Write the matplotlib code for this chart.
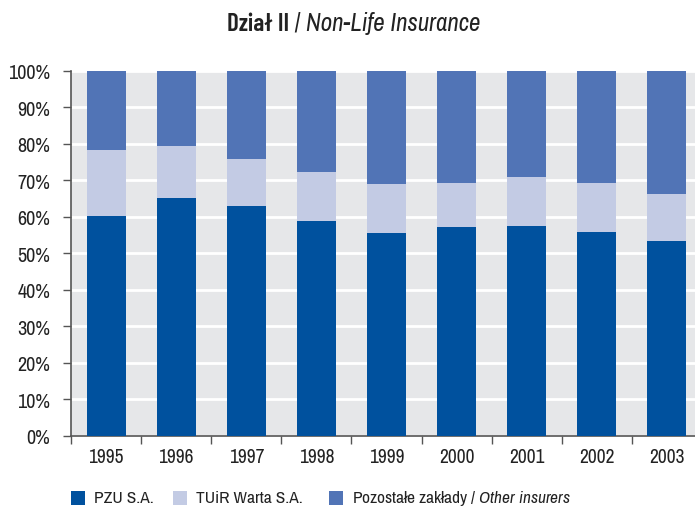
import numpy as np
import matplotlib
matplotlib.use("Agg")
import matplotlib.pyplot as plt
from matplotlib.patches import Rectangle

FONT = 'Archivo Narrow'
BOLD_FONT = 'Barlow Condensed'
plt.rcParams['font.family'] = [FONT, 'DejaVu Sans']
plt.rcParams['mathtext.fontset'] = 'custom'
plt.rcParams['mathtext.rm'] = FONT
plt.rcParams['mathtext.it'] = FONT + ':italic'

# --- data (share of gross written premium, %) ---
years = ['1995', '1996', '1997', '1998', '1999', '2000', '2001', '2002', '2003']
pzu = [60.1, 65.1, 62.9, 58.8, 55.5, 57.1, 57.4, 55.7, 53.3]
warta = [18.1, 14.2, 12.9, 13.4, 13.4, 12.1, 13.4, 13.5, 12.9]
others = [21.8, 20.7, 24.2, 27.8, 31.1, 30.8, 29.2, 30.8, 33.8]
series_names = ['PZU S.A.', 'TUiR Warta S.A.',
                r'Pozostałe zakłady / $\mathit{Other\ insurers}$']
yticks = [0, 10, 20, 30, 40, 50, 60, 70, 80, 90, 100]

colors = ['#00519e', '#c3cbe4', '#5174b6']
BG = '#e6e7e9'
AX = '#555555'
TXT = '#222222'

fig = plt.figure(figsize=(6.95, 5.10), dpi=100)
ax = fig.add_axes([71 / 695, (510 - 436.5) / 510, 624 / 695, 364.5 / 510])
ax.set_facecolor(BG)

x = np.arange(len(years))
bottom = np.zeros(len(years))
for vals, c in zip([pzu, warta, others], colors):
    ax.bar(x, vals, width=0.555, bottom=bottom, color=c, zorder=3, linewidth=0)
    bottom += np.array(vals)

ax.set_ylim(0, 100)
ax.set_xlim(-0.5, 8.4)
ax.set_yticks(yticks)
ax.set_yticklabels([f'{v}%' for v in yticks], fontsize=14.5, color=TXT)
ax.yaxis.grid(True, color='white', linewidth=2, zorder=1)

ax.set_xticks(x)
ax.set_xticklabels(years, fontsize=14, color=TXT)
ax.tick_params(axis='x', which='major', length=0, pad=8)
ax.set_xticks(np.arange(-0.5, 8.5, 1.0), minor=True)
ax.tick_params(axis='x', which='minor', length=6, color=AX, width=1)
ax.tick_params(axis='y', length=6, color=AX, width=1, pad=9)

for s in ['top', 'right']:
    ax.spines[s].set_visible(False)
for s in ['left', 'bottom']:
    ax.spines[s].set_color(AX)
    ax.spines[s].set_linewidth(1.2)

# title: bold part + italic part, centred together
r = fig.canvas.get_renderer()
t1 = fig.text(0, 0, 'Dział II', fontsize=18, fontweight='semibold',
              family=[BOLD_FONT, FONT, 'DejaVu Sans'], color=TXT)
t2 = fig.text(0, 0, ' / ', fontsize=18, color=TXT)
t3 = fig.text(0, 0, 'Non-Life Insurance', fontsize=18, style='italic', color=TXT)
widths = [t.get_window_extent(r).width for t in (t1, t2, t3)]
xpos = 354 - sum(widths) / 2
for t, w in zip((t1, t2, t3), widths):
    t.set_position((xpos / 695, 1 - 31 / 510))
    xpos += w

# legend drawn by hand
leg_x = [71, 173, 329]
for lx, name, c in zip(leg_x, series_names, colors):
    fig.add_artist(Rectangle((lx / 695, 1 - 506 / 510), 14 / 695, 14 / 510,
                             transform=fig.transFigure, color=c, linewidth=0))
    fig.text((lx + 23) / 695, 1 - 499 / 510, name, fontsize=12.5,
             va='center', color=TXT)

fig.savefig('out.png', dpi=100)
